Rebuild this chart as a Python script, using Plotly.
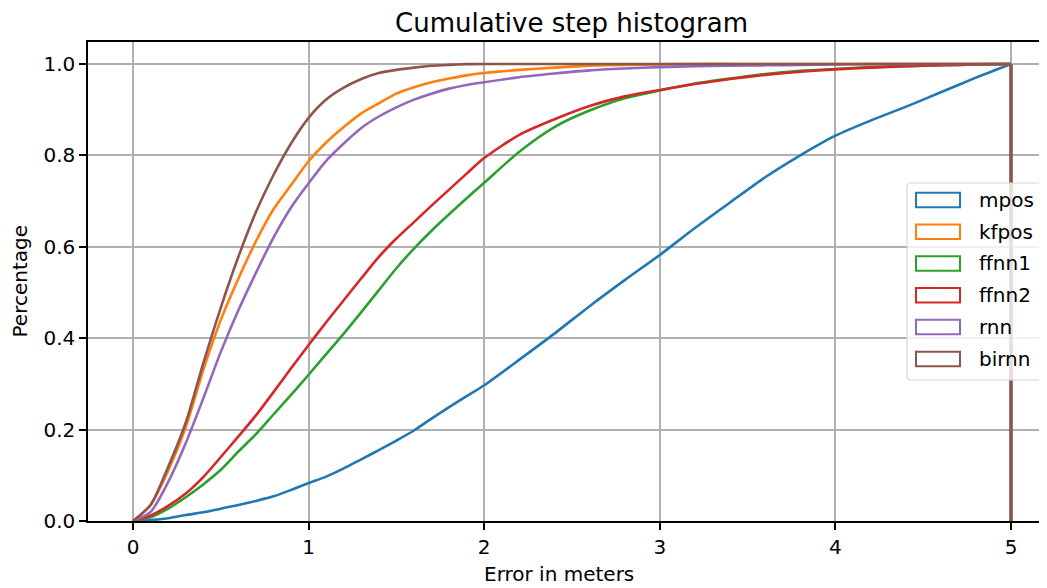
import plotly.graph_objects as go

# ---- data ----
x_grid = [0.0, 0.1, 0.2, 0.3, 0.4, 0.5, 0.6, 0.7, 0.8, 0.9, 1.0,
          1.1, 1.2, 1.3, 1.4, 1.5, 1.6, 1.7, 1.8, 1.9, 2.0,
          2.2, 2.4, 2.6, 2.8, 3.0, 3.2, 3.4, 3.6, 3.8, 4.0,
          4.2, 4.4, 4.6, 4.8, 5.0]

mpos = [0, 0.002, 0.006, 0.013, 0.019, 0.027, 0.035, 0.044, 0.054, 0.068, 0.083,
        0.097, 0.115, 0.135, 0.155, 0.176, 0.198, 0.224, 0.249, 0.273, 0.297,
        0.353, 0.41, 0.47, 0.527, 0.582, 0.641, 0.697, 0.752, 0.800, 0.843,
        0.876, 0.906, 0.938, 0.970, 1.0]
kfpos = [0, 0.035, 0.11, 0.205, 0.33, 0.44, 0.53, 0.612, 0.682, 0.735, 0.787,
         0.828, 0.862, 0.892, 0.914, 0.935, 0.949, 0.96, 0.968, 0.975, 0.98,
         0.987, 0.992, 0.996, 0.998, 0.999, 1.0, 1.0, 1.0, 1.0, 1.0,
         1.0, 1.0, 1.0, 1.0, 1.0]
ffnn1 = [0, 0.008, 0.027, 0.052, 0.08, 0.112, 0.152, 0.19, 0.233, 0.276, 0.32,
         0.365, 0.41, 0.457, 0.505, 0.553, 0.596, 0.635, 0.671, 0.706, 0.74,
         0.808, 0.862, 0.898, 0.925, 0.942, 0.957, 0.968, 0.978, 0.985, 0.989,
         0.993, 0.995, 0.997, 0.999, 1.0]
ffnn2 = [0, 0.012, 0.033, 0.06, 0.096, 0.14, 0.185, 0.231, 0.282, 0.334, 0.385,
         0.435, 0.483, 0.531, 0.578, 0.618, 0.654, 0.69, 0.725, 0.76, 0.794,
         0.845, 0.879, 0.908, 0.929, 0.943, 0.956, 0.967, 0.976, 0.983, 0.988,
         0.992, 0.995, 0.997, 0.999, 1.0]
rnn = [0, 0.02, 0.085, 0.17, 0.268, 0.37, 0.461, 0.543, 0.62, 0.686, 0.739,
       0.788, 0.826, 0.86, 0.885, 0.905, 0.922, 0.935, 0.946, 0.954, 0.96,
       0.971, 0.979, 0.986, 0.99, 0.993, 0.995, 0.996, 0.997, 0.998, 0.999,
       0.9995, 1.0, 1.0, 1.0, 1.0]
birnn = [0, 0.035, 0.118, 0.215, 0.345, 0.467, 0.578, 0.676, 0.757, 0.826, 0.882,
         0.922, 0.948, 0.967, 0.98, 0.987, 0.992, 0.996, 0.998, 0.9995, 1.0,
         1.0, 1.0, 1.0, 1.0, 1.0, 1.0, 1.0, 1.0, 1.0, 1.0,
         1.0, 1.0, 1.0, 1.0, 1.0]

series_names = ["mpos", "kfpos", "ffnn1", "ffnn2", "rnn", "birnn"]
series_values = [mpos, kfpos, ffnn1, ffnn2, rnn, birnn]
colors = ["#1f77b4", "#ff7f0e", "#2ca02c", "#d62728", "#9467bd", "#8c564b"]

y_ticks = [0.0, 0.2, 0.4, 0.6, 0.8, 1.0]
x_ticks = [0, 1, 2, 3, 4, 5]

FONT = "DejaVu Sans"
OFF = 8  # page body margin in the browser
W, H = 1047 - OFF, 588 - OFF
L, R, T, B = 88 - OFF, 0, 42 - OFF, 588 - 521
PW, PH = W - L - R, H - T - B


def px(xp):
    """reference window pixel x -> paper fraction"""
    return (xp - OFF - L) / PW


def py(yp):
    """reference window pixel y -> paper fraction"""
    return (H - B - (yp - OFF)) / PH


fig = go.Figure()
for name, vals, col in zip(series_names, series_values, colors):
    fig.add_trace(go.Scatter(
        x=x_grid, y=vals, mode="lines", name=name,
        line=dict(color=col, width=2.6, shape="spline", smoothing=0.7),
        showlegend=False, hoverinfo="skip"))
    # step histogram outline closes down to the baseline at the last bin edge
    fig.add_trace(go.Scatter(
        x=[x_grid[-1], x_grid[-1]], y=[vals[-1], 0], mode="lines",
        line=dict(color=col, width=2.6), showlegend=False, hoverinfo="skip"))

shapes = []
annotations = []

# legend frame (rounded)
x0, x1, y0, y1, r = 907, 1045, 183, 380, 4
rx = r / PW
ry = r / PH
X0, X1, Y0, Y1 = px(x0), px(x1), py(y0), py(y1)
path = (f"M {X0+rx},{Y0} L {X1-rx},{Y0} Q {X1},{Y0} {X1},{Y0-ry} "
        f"L {X1},{Y1+ry} Q {X1},{Y1} {X1-rx},{Y1} "
        f"L {X0+rx},{Y1} Q {X0},{Y1} {X0},{Y1+ry} "
        f"L {X0},{Y0-ry} Q {X0},{Y0} {X0+rx},{Y0} Z")
shapes.append(dict(type="path", xref="paper", yref="paper", path=path,
                   line=dict(color="#d5d5d5", width=1.2),
                   fillcolor="rgba(255,255,255,0.8)", layer="above"))

entry_centers = [200, 231.7, 263.5, 295.2, 327, 359]
for name, col, cy in zip(series_names, colors, entry_centers):
    shapes.append(dict(type="rect", xref="paper", yref="paper",
                       x0=px(916), x1=px(960), y0=py(cy - 7.3), y1=py(cy + 7.3),
                       line=dict(color=col, width=2), fillcolor="rgba(0,0,0,0)",
                       layer="above"))
    annotations.append(dict(text=name, xref="paper", yref="paper",
                            x=px(977), y=py(cy), xanchor="left", yanchor="middle",
                            showarrow=False,
                            font=dict(family=FONT, size=20, color="black")))

# title and axis labels
annotations.append(dict(text="Cumulative step histogram", xref="paper", yref="paper",
                        x=px(571.5), y=py(23), xanchor="center", yanchor="middle",
                        showarrow=False, borderpad=0,
                        font=dict(family=FONT, size=26, color="black")))
annotations.append(dict(text="Error in meters", xref="paper", yref="paper",
                        x=px(559), y=py(574), xanchor="center", yanchor="middle",
                        showarrow=False, font=dict(family=FONT, size=20, color="black")))
annotations.append(dict(text="Percentage", xref="paper", yref="paper",
                        x=px(19), y=py(281.5), xanchor="center", yanchor="middle",
                        textangle=-90, showarrow=False,
                        font=dict(family=FONT, size=20, color="black")))

fig.update_layout(
    width=W, height=H,
    margin=dict(l=L, r=R, t=T, b=B, pad=0),
    plot_bgcolor="white", paper_bgcolor="white",
    showlegend=False,
    shapes=shapes, annotations=annotations,
    xaxis=dict(range=[-0.2563, 5.205], tickvals=x_ticks,
               ticktext=[str(v) for v in x_ticks],
               ticks="outside", ticklen=7, tickwidth=1.5, tickcolor="black",
               showline=True, linecolor="black", linewidth=1.5, mirror=True,
               showgrid=True, gridcolor="#b0b0b0", gridwidth=1.5, zeroline=False,
               tickfont=dict(family=FONT, size=20, color="black")),
    yaxis=dict(range=[0, 1.048], tickvals=y_ticks,
               ticktext=[f"{v:.1f}" for v in y_ticks],
               ticks="outside", ticklen=7, tickwidth=1.5, tickcolor="black",
               showline=True, linecolor="black", linewidth=1.5, mirror=False,
               showgrid=True, gridcolor="#b0b0b0", gridwidth=1.5, zeroline=False,
               tickfont=dict(family=FONT, size=20, color="black")),
)

fig.write_html("out.html")
